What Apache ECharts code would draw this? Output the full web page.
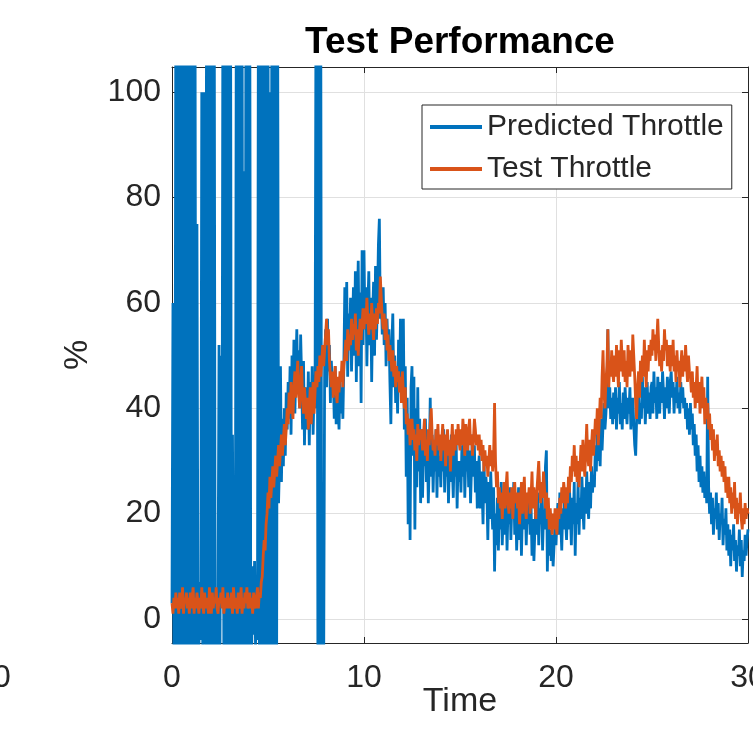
<!DOCTYPE html>
<html><head><meta charset="utf-8">
<script src="https://cdn.jsdelivr.net/npm/echarts@6/dist/echarts.min.js"></script>
<style>html,body{margin:0;padding:0;background:#fff}#c{width:753px;height:748px}</style>
</head><body><div id="c"></div>
<script>
// Predicted Throttle (%), one row per second, sampled every 0.05 s, t = 0 .. 30
const predictedThrottle = [
  3, 60, -8, 5, 120, -10, 120, -12, 118, -10, 120, -10, 120, -11, 120, -10, 119, -10, 120, -10,
  120, -10, 120, -12, 117, -8, 75, 3, -6, 7, -4, 100, -6, 100, 5, -5, 120, -10, 120, -10,
  120, -10, 118, -10, 120, -8, 4, -6, 6, 52, -5, 50, 3, 120, -10, 120, -12, 120, -10, 120,
  -10, 120, -10, 35, 2, -6, 8, 120, -10, 120, -12, 120, -10, 120, -10, 85, -8, 120, -10, 120,
  -10, 120, 5, -6, 10, -3, 11, -5, 6, -4, 120, -10, 120, -12, 120, -10, 120, -10, 120, -10,
  120, -10, 100, -10, 120, -12, 120, -10, 120, -8, 120, 22, 30, 48, 26, 38, 29, 40, 31, 43,
  36, 45, 38, 48, 35, 50, 42, 53, 39, 47, 55, 44, 51, 40, 54, 46, 36, 49, 33, 44,
  42, 36, 47, 33, 45, 38, 48, 35, 44, 40, 120, 118, -12, 120, -12, 110, -12, -12, -10, 48,
  55, 44, 57, 47, 52, 41, 49, 44, 46, 38, 48, 37, 45, 40, 36, 46, 39, 44, 38, 48,
  63, 50, 64, 46, 58, 52, 61, 47, 55, 63, 50, 66, 45, 59, 68, 48, 62, 41, 70, 52,
  70, 55, 63, 48, 59, 66, 52, 61, 45, 58, 64, 50, 67, 53, 60, 71, 76, 57, 62, 54,
  63, 52, 60, 48, 57, 51, 55, 45, 37, 52, 58, 44, 50, 41, 47, 39, 53, 44, 57, 47,
  43, 57, 36, 48, 27, 42, 18, 38, 15, 44, 48, 31, 46, 17, 40, 25, 44, 28, 38, 22,
  36, 23, 33, 29, 38, 26, 34, 22, 30, 42, 27, 35, 24, 32, 28, 36, 23, 33, 27, 31,
  25, 33, 28, 36, 24, 31, 27, 34, 22, 30, 26, 35, 29, 23, 32, 27, 34, 21, 30, 26,
  30, 24, 33, 27, 35, 23, 31, 28, 34, 25, 32, 22, 29, 35, 27, 33, 24, 30, 21, 28,
  31, 21, 28, 25, 18, 30, 22, 27, 24, 15, 26, 19, 28, 22, 17, 25, 9, 20, 14, 23,
  13, 22, 17, 26, 14, 20, 24, 16, 23, 13, 21, 18, 25, 15, 22, 19, 26, 16, 23, 13,
  19, 25, 15, 22, 12, 20, 26, 17, 23, 14, 21, 18, 24, 16, 22, 12, 19, 11, 17, 21,
  16, 24, 14, 21, 18, 25, 13, 20, 17, 29, 32, 9, 19, 12, 17, 11, 16, 10, 14, 18,
  14, 19, 22, 16, 24, 18, 13, 21, 17, 24, 19, 15, 22, 17, 25, 20, 14, 23, 18, 26,
  12, 22, 18, 26, 16, 23, 19, 27, 21, 17, 25, 20, 28, 22, 19, 26, 21, 29, 24, 27,
  25, 33, 28, 36, 30, 34, 29, 38, 32, 37, 41, 36, 39, 43, 55, 40, 44, 38, 42, 37,
  43, 38, 44, 36, 42, 39, 45, 37, 41, 36, 43, 38, 44, 40, 37, 42, 39, 44, 36, 41,
  42, 37, 33, 31, 38, 40, 43, 37, 41, 38, 46, 40, 44, 37, 42, 45, 39, 43, 38, 44,
  45, 39, 47, 41, 44, 38, 46, 42, 39, 45, 41, 47, 43, 38, 44, 40, 46, 42, 39, 45,
  47, 42, 45, 39, 44, 41, 46, 40, 43, 39, 45, 41, 44, 40, 42, 38, 41, 36, 40, 35,
  41, 36, 39, 33, 37, 31, 35, 28, 33, 26, 31, 25, 29, 24, 28, 23, 27, 22, 46, 25,
  20, 24, 18, 23, 16, 21, 19, 24, 17, 22, 15, 20, 18, 23, 14, 19, 16, 21, 13, 18,
  12, 17, 10, 16, 13, 18, 11, 15, 9, 14, 12, 17, 10, 15, 8, 13, 11, 16, 12, 15,
  17
];
// Test Throttle (%), one row per second, sampled every 0.05 s, t = 0 .. 30
const testThrottle = [
  3, 1, 4, 2, 5, 2, 4, 1, 5, 3, 2, 6, 1, 4, 3, 5, 2, 4, 1, 5,
  2, 4, 6, 1, 4, 2, 5, 3, 1, 4, 2, 6, 3, 1, 5, 2, 4, 3, 1, 6,
  3, 1, 5, 2, 4, 3, 6, 2, 1, 4, 3, 5, 2, 6, 1, 3, 4, 2, 5, 2,
  4, 2, 5, 1, 6, 3, 2, 4, 1, 5, 3, 2, 6, 1, 4, 2, 5, 3, 6, 2,
  3, 5, 2, 4, 1, 5, 3, 2, 4, 6, 2, 5, 4, 7, 8, 12, 15, 13, 18, 20,
  24, 21, 27, 23, 26, 29, 25, 28, 31, 27, 30, 33, 29, 32, 35, 31, 34, 37, 33, 36,
  40, 37, 43, 39, 45, 41, 38, 44, 47, 42, 46, 49, 43, 40, 45, 48, 42, 39, 44, 41,
  38, 42, 36, 40, 44, 37, 41, 45, 39, 43, 47, 44, 48, 45, 50, 46, 49, 52, 48, 51,
  54, 57, 52, 55, 49, 46, 44, 47, 42, 45, 48, 43, 41, 46, 43, 47, 45, 49, 44, 48,
  50, 53, 49, 55, 51, 54, 52, 57, 53, 56, 54, 58, 51, 55, 50, 54, 57, 53, 56, 59,
  55, 59, 56, 61, 57, 54, 58, 55, 60, 56, 53, 58, 55, 59, 56, 60, 58, 65, 61, 57,
  55, 58, 53, 57, 51, 54, 49, 52, 50, 47, 51, 46, 49, 44, 48, 45, 47, 43, 46, 41,
  47, 43, 40, 44, 37, 39, 35, 38, 33, 36, 38, 34, 36, 32, 35, 30, 37, 33, 36, 34,
  36, 32, 35, 38, 31, 34, 30, 36, 33, 37, 40, 35, 32, 34, 31, 36, 33, 37, 32, 35,
  30, 34, 37, 32, 35, 29, 33, 36, 31, 34, 28, 33, 37, 31, 35, 32, 36, 33, 37, 34,
  32, 36, 33, 38, 35, 31, 37, 34, 32, 36, 38, 33, 35, 31, 34, 38, 36, 33, 35, 32,
  35, 31, 34, 30, 33, 28, 32, 29, 31, 27, 30, 33, 29, 32, 28, 31, 41, 30, 25, 28,
  22, 25, 21, 24, 19, 23, 26, 21, 25, 28, 22, 20, 24, 21, 25, 19, 23, 26, 22, 24,
  21, 24, 18, 22, 26, 20, 23, 27, 21, 19, 24, 22, 25, 20, 23, 28, 21, 25, 22, 19,
  24, 27, 30, 25, 22, 26, 23, 28, 25, 21, 24, 19, 23, 17, 21, 18, 16, 20, 17, 21,
  18, 16, 21, 19, 23, 20, 25, 22, 26, 24, 21, 25, 22, 27, 24, 29, 26, 31, 28, 33,
  27, 31, 26, 30, 25, 29, 33, 28, 34, 30, 27, 32, 37, 31, 29, 34, 28, 33, 36, 31,
  34, 38, 35, 40, 33, 37, 42, 38, 46, 51, 43, 40, 45, 48, 55, 44, 49, 46, 51, 47,
  45, 50, 46, 52, 48, 44, 51, 47, 53, 49, 46, 51, 45, 49, 44, 52, 48, 46, 51, 47,
  54, 50, 46, 41, 38, 44, 47, 42, 49, 45, 50, 46, 53, 48, 44, 51, 47, 52, 49, 53,
  50, 55, 51, 54, 49, 53, 57, 52, 48, 51, 47, 52, 49, 55, 51, 53, 48, 52, 50, 47,
  52, 48, 53, 47, 50, 45, 51, 47, 49, 44, 48, 51, 46, 50, 47, 52, 48, 45, 50, 47,
  46, 43, 47, 42, 45, 40, 44, 48, 41, 45, 39, 43, 46, 40, 44, 37, 42, 38, 41, 36,
  39, 34, 37, 32, 36, 30, 34, 31, 35, 29, 32, 28, 31, 27, 30, 26, 29, 24, 27, 23,
  27, 22, 25, 20, 24, 21, 26, 19, 23, 18, 22, 20, 24, 19, 17, 21, 18, 22, 19, 21,
  20
];
const sampleStep = 0.05;          // seconds between samples
const xRange = [0, 30];
const xTickStep = 10;
const yRange = [-4.56, 104.8];
const seriesNames = ['Predicted Throttle', 'Test Throttle'];
const seriesColors = ['#0072BD', '#D95319'];
const titleText = 'Test Performance';
const xLabel = 'Time';
const yLabel = '%';

const FONT = 'Liberation Sans, Arial, Helvetica, sans-serif';
const INK = '#262626';
const toPairs = arr => arr.map((v, i) => [+(i * sampleStep).toFixed(2), v]);

const chart = echarts.init(document.getElementById('c'), null, {renderer: 'canvas'});
const boxAxisX = {
  type: 'value', min: xRange[0], max: xRange[1], interval: xTickStep,
  axisLine: {show: true, onZero: false, lineStyle: {color: INK, width: 1}},
  axisTick: {show: true, inside: true, length: 6, lineStyle: {color: INK}},
};
const boxAxisY = {
  type: 'value', min: yRange[0], max: yRange[1], splitNumber: 5,
  axisLine: {show: true, onZero: false, lineStyle: {color: INK, width: 1}},
  axisTick: {show: true, inside: true, length: 6, lineStyle: {color: INK}},
};
chart.setOption({
  animation: false,
  backgroundColor: '#fff',
  textStyle: {fontFamily: FONT},
  title: {
    text: titleText, left: 455, top: 19, textAlign: 'center',
    textStyle: {fontSize: 37, fontWeight: 'bold', color: '#000', fontFamily: FONT}
  },
  grid: {left: 172, right: 5, top: 67, bottom: 105, containLabel: false, outerBoundsMode: 'none'},
  legend: {
    orient: 'vertical', left: 422, top: 105,
    padding: [7, 8, 5, 8], itemWidth: 52, itemHeight: 4, itemGap: 12,
    icon: 'rect',
    backgroundColor: '#fff', borderColor: INK, borderWidth: 1, borderRadius: 0,
    textStyle: {fontSize: 30, color: INK, fontFamily: FONT, lineHeight: 30},
    data: seriesNames.map((n, i) => ({name: n, icon: 'rect', itemStyle: {color: seriesColors[i]}}))
  },
  xAxis: [
    Object.assign({}, boxAxisX, {
      position: 'bottom',
      axisLabel: {color: INK, fontSize: 32, margin: 19, fontFamily: FONT},
      splitLine: {show: true, lineStyle: {color: '#e0e0e0', width: 1}},
      name: xLabel, nameLocation: 'middle', nameGap: 42, nameMoveOverlap: false,
      nameTextStyle: {fontSize: 34, color: INK, fontFamily: FONT}
    }),
    Object.assign({}, boxAxisX, {
      position: 'top', axisLabel: {show: false}, splitLine: {show: false}
    })
  ],
  yAxis: [
    Object.assign({}, boxAxisY, {
      position: 'left',
      axisLabel: {color: INK, fontSize: 32, margin: 11, fontFamily: FONT,
                  showMinLabel: false, showMaxLabel: false},
      splitLine: {show: true, lineStyle: {color: '#e0e0e0', width: 1}},
      name: yLabel, nameLocation: 'middle', nameGap: 77, nameRotate: 90, nameMoveOverlap: false,
      nameTextStyle: {fontSize: 34, color: INK, fontFamily: FONT}
    }),
    Object.assign({}, boxAxisY, {
      position: 'right', axisLabel: {show: false}, splitLine: {show: false}
    })
  ],
  graphic: [{
    type: 'text', left: -7, top: 662, silent: true,
    style: {text: '0', fontSize: 32, fill: INK, fontFamily: FONT}
  }],
  series: [
    {
      name: seriesNames[0], type: 'line', xAxisIndex: 0, yAxisIndex: 0,
      data: toPairs(predictedThrottle), showSymbol: false, symbol: 'none',
      clip: true, sampling: null, color: seriesColors[0],
      lineStyle: {color: seriesColors[0], width: 2.8}, z: 2
    },
    {
      name: seriesNames[1], type: 'line', xAxisIndex: 0, yAxisIndex: 0,
      data: toPairs(testThrottle), showSymbol: false, symbol: 'none',
      clip: true, sampling: null, color: seriesColors[1],
      lineStyle: {color: seriesColors[1], width: 2.8}, z: 3
    }
  ]
});
</script>
</body></html>
